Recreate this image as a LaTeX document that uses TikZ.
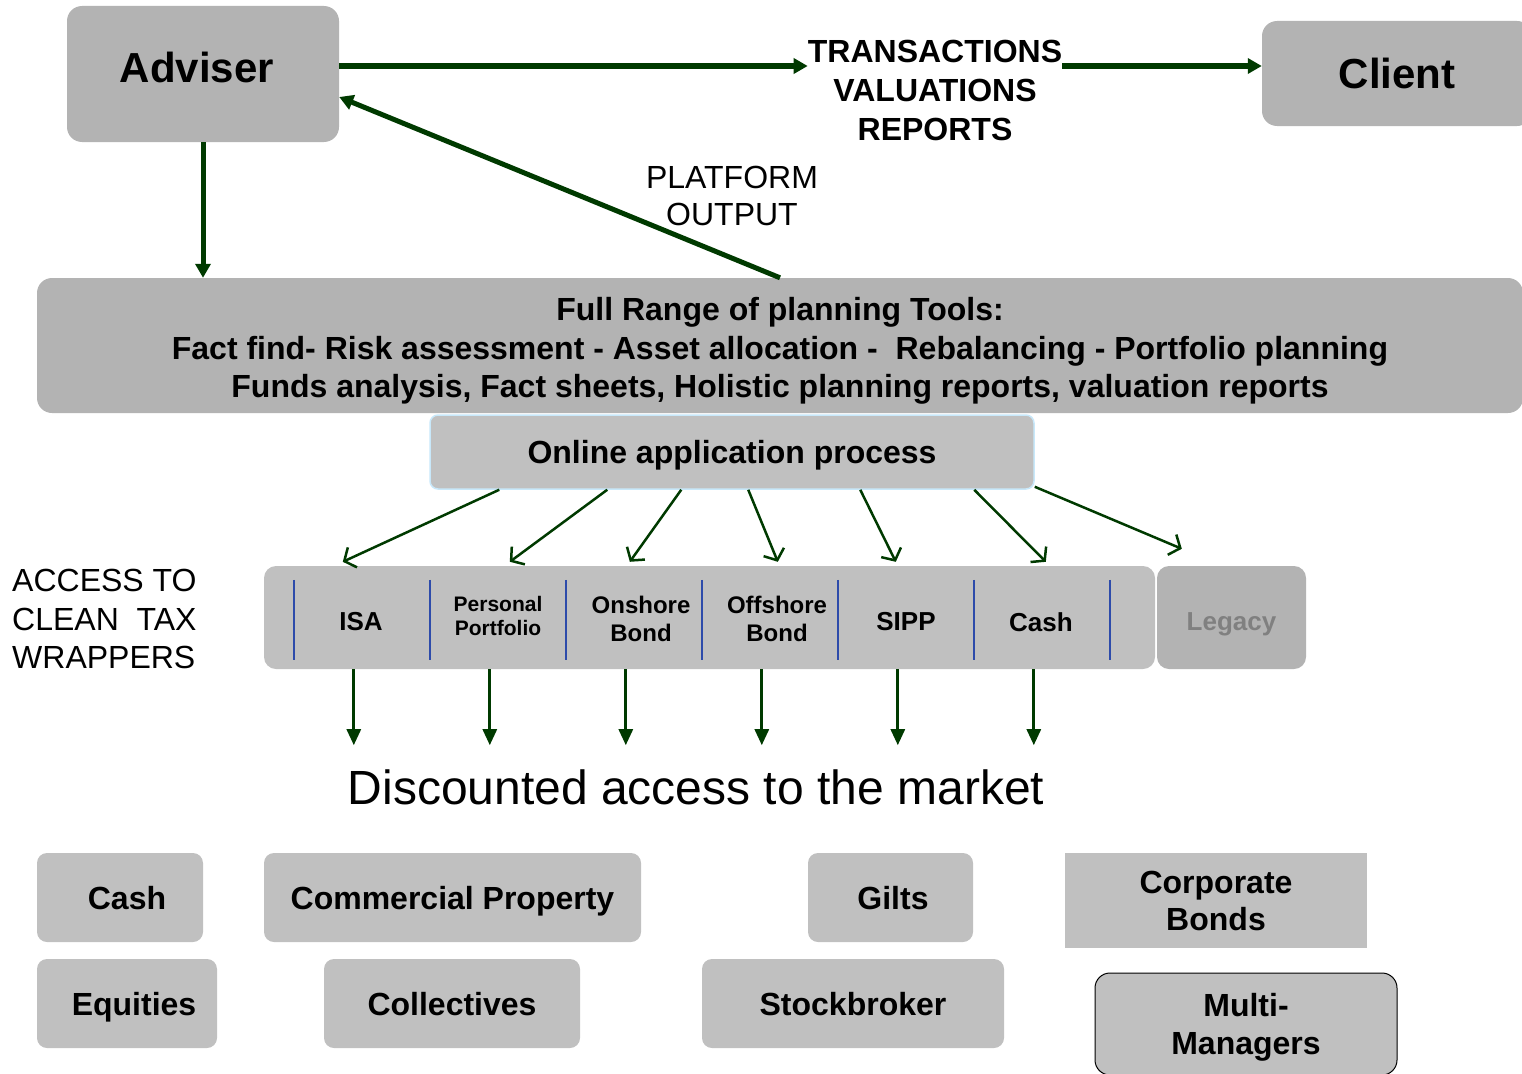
\documentclass[tikz,border=0pt]{standalone}
\usepackage{fontspec}
\setmainfont{Liberation Sans}
\usetikzlibrary{arrows.meta}
\definecolor{boxgray}{RGB}{179,179,179}
\definecolor{palegray}{RGB}{192,192,192}
\definecolor{arrowgreen}{RGB}{0,58,0}
\definecolor{sepblue}{RGB}{45,75,170}
\definecolor{edgeblue}{RGB}{200,232,250}
\definecolor{legacytext}{RGB}{128,128,128}
\newcommand{\fsz}[2]{\fontsize{#1}{#2}\selectfont}

\begin{document}
\begin{tikzpicture}[x=1pt,y=-1pt,
		darkbox/.style={fill=boxgray,rounded corners=15pt,inner sep=0pt,text depth=0pt},
		palebox/.style={fill=palegray,rounded corners=10pt,inner sep=0pt,text depth=0pt},
		assetbox/.style={palebox,minimum height=89,align=center,font=\fsz{32}{37}\bfseries},
		wraplabel/.style={align=center,inner sep=0pt,font=\fsz{26}{28}\bfseries},
		bigarrow/.style={draw=arrowgreen,line width=5pt,-{Triangle[length=14pt,width=15pt]}},
		fanarrow/.style={draw=arrowgreen,line width=2.5pt,-{Straight Barb[length=9pt,width=22pt]}},
		downarrow/.style={draw=arrowgreen,line width=2.8pt,-{Triangle[length=16pt,width=14pt]}}]
		\useasboundingbox (0,0) rectangle (1522,1073);
		% adviser and client
		\node[darkbox,text depth=14pt,minimum width=272,minimum height=136,font=\fsz{42}{48}\bfseries] (adviser) at (203,74){Adviser\kern12pt};
		\node[darkbox,minimum width=270,minimum height=105,font=\fsz{42}{48}\bfseries] (client) at (1397,73.5){Client};
		\node[align=center,inner sep=0pt,font=\fsz{32}{39}\bfseries] (outputs) at (935,90){TRANSACTIONS\\VALUATIONS\\REPORTS};
		\node[align=center,inner sep=0pt,font=\fsz{32}{37}] (platform) at (732,196){PLATFORM\\OUTPUT};
		% planning tools
		\node[darkbox,text height=104pt,minimum width=1486,minimum height=135,align=center,font=\fsz{32}{38.5}\bfseries] (planning) at (780,345.5){Full Range of planning Tools:\\Fact find- Risk assessment - Asset allocation -\ \ Rebalancing - Portfolio planning\\Funds analysis, Fact sheets, Holistic planning reports, valuation reports};
		\node[palebox,draw=edgeblue,line width=1.5pt,rounded corners=8pt,minimum width=604,minimum height=74,font=\fsz{32}{38}\bfseries] (online) at (732,452){Online application process};
		\coordinate (advout) at ([yshift=8pt]adviser.east);
		\draw[bigarrow] (advout) -- (advout -| outputs.west);
		\draw[bigarrow] (advout -| outputs.east) -- (advout -| client.west);
		\draw[bigarrow] (planning.north) -- ([yshift=-23pt]adviser.east);
		\draw[bigarrow] (adviser.south) -- (adviser.south |- planning.north);
		% wrappers
		\node[align=left,anchor=west,inner sep=0pt,font=\fsz{32}{38.5}] (access) at (12,619){ACCESS TO\\CLEAN\ \ TAX\\WRAPPERS};
		\node[palebox,rounded corners=12pt,minimum width=891,minimum height=103] (wrappers) at (709.5,617.5){};
		\foreach \i in {0,...,6}
			\draw[sepblue,line width=1.8pt] ([xshift=30pt+\i*136pt,yshift=-14pt]wrappers.north west) -- ++(0,80);
		\node[wraplabel] (isa) at (361,622){ISA};
		\node[wraplabel,font=\fsz{21}{24}\bfseries] (personal) at (498,616){Personal\\Portfolio};
		\node[wraplabel,font=\fsz{24}{28}\bfseries] (onshore) at (641,619){Onshore\\Bond};
		\node[wraplabel,font=\fsz{24}{28}\bfseries] (offshore) at (777,619){Offshore\\Bond};
		\node[wraplabel] (sipp) at (906,622){SIPP};
		\node[wraplabel] (cashwrap) at (1041,622){Cash};
		\node[darkbox,text height=26.6pt,rounded corners=12pt,minimum width=149,minimum height=103,text=legacytext,font=\fsz{26}{30}\bfseries] (legacy) at (1231.5,617.5){Legacy};
		\foreach \s/\e in {70/79,178/246,252/366,319/514,431/632,545/782}
			\draw[fanarrow] ([xshift=\s pt]online.south west) -- ([xshift=\e pt,yshift=4pt]wrappers.north west);
		\draw[fanarrow] ([yshift=3pt]online.south east) -- ([xshift=918pt,yshift=17pt]wrappers.north west);
		\foreach \k in {0,...,5}
			\draw[downarrow] ([xshift=90pt+\k*136pt]wrappers.south west) -- ++(0,76);
		\node[font=\fsz{48}{56}] (market) at (696,787){Discounted access to the market};
		% asset classes
		\node[assetbox,minimum width=166] (cash) at (120,897.5){\hspace{14pt}Cash};
		\node[assetbox,minimum width=377] (property) at (452.5,897.5){Commercial Property};
		\node[assetbox,minimum width=165] (gilts) at (890.5,897.5){\hspace{5pt}Gilts};
		\node[assetbox,text depth=-4pt,rounded corners=0pt,minimum width=302,minimum height=95] (bonds) at (1216,900.5){Corporate\\Bonds};
		\node[assetbox,minimum width=180] (equities) at (127,1003.5){\hspace{14pt}Equities};
		\node[assetbox,minimum width=256] (collectives) at (452,1003.5){Collectives};
		\node[assetbox,minimum width=302] (stockbroker) at (853,1003.5){Stockbroker};
		\node[assetbox,draw=black,line width=1pt,rounded corners=15pt,minimum width=302,minimum height=102,font=\fsz{32}{38}\bfseries] (multi) at (1246,1024){Multi-\\Managers};
	\end{tikzpicture}
\end{document}
